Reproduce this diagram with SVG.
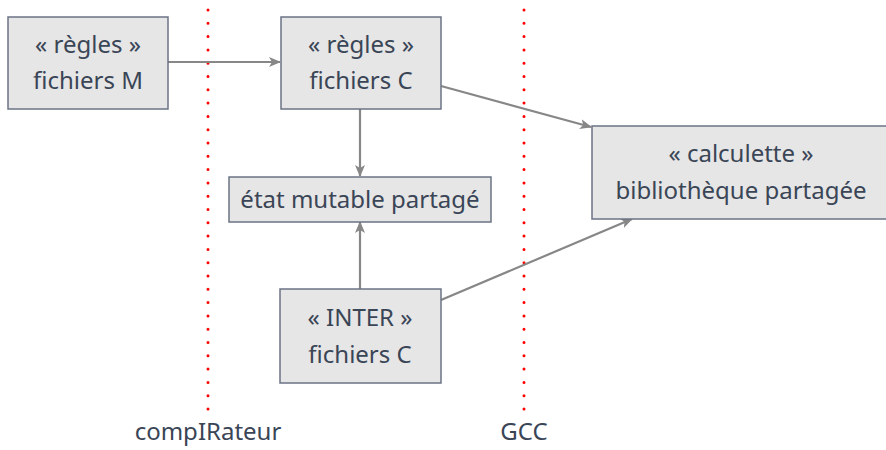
<svg xmlns="http://www.w3.org/2000/svg" width="886" height="450" viewBox="0 0 886 450">
<style>
.box{fill:#e6e6e6;stroke:#6b7384;stroke-width:1.5}
.t{font-family:"Noto Sans","Open Sans",sans-serif;font-size:24px;fill:#3a4556;text-anchor:middle}
.c{fill:none;stroke:#878787;stroke-width:2.2}
.sep{stroke:#ff0000;stroke-width:3;stroke-linecap:round;stroke-dasharray:0 13.3}
</style>
<defs>
<marker id="ah" viewBox="0 0 12 10" refX="11" refY="5" markerWidth="12" markerHeight="10" markerUnits="userSpaceOnUse" orient="auto">
<path d="M0,0 L12,5 L0,10 L3,5 Z" fill="#878787"/>
</marker>
</defs>
<g id="separators">
<line class="sep" x1="208" y1="10" x2="208" y2="412"/>
<line class="sep" x1="524" y1="10" x2="524" y2="412"/>
<text class="t" x="208" y="440" font-size="22">compIRateur</text>
<text class="t" x="524" y="440" font-size="22">GCC</text>
</g>
<g id="connectors">
<line class="c" x1="168" y1="62" x2="280" y2="62" marker-end="url(#ah)"/>
<line class="c" x1="360" y1="109" x2="360" y2="176" marker-end="url(#ah)"/>
<line class="c" x1="360" y1="289" x2="360" y2="222" marker-end="url(#ah)"/>
<line class="c" x1="441" y1="86" x2="591" y2="127" marker-end="url(#ah)"/>
<line class="c" x1="441" y1="300" x2="632" y2="219" marker-end="url(#ah)"/>
</g>
<g id="regles-m">
<rect class="box" x="8" y="17" width="160" height="92"/>
<text class="t" x="88" y="53">« règles »</text>
<text class="t" x="88" y="89">fichiers M</text>
</g>
<g id="regles-c">
<rect class="box" x="281" y="17" width="160" height="92"/>
<text class="t" x="361" y="53">« règles »</text>
<text class="t" x="361" y="89">fichiers C</text>
</g>
<g id="etat">
<rect class="box" x="229" y="177" width="262" height="45"/>
<text class="t" x="360" y="208">état mutable partagé</text>
</g>
<g id="calculette">
<rect class="box" x="592" y="126" width="296" height="93"/>
<text class="t" x="741" y="162">« calculette »</text>
<text class="t" x="741" y="199">bibliothèque partagée</text>
</g>
<g id="inter">
<rect class="box" x="280" y="289" width="161" height="94"/>
<text class="t" x="360" y="326">« INTER »</text>
<text class="t" x="360" y="363">fichiers C</text>
</g>
</svg>
